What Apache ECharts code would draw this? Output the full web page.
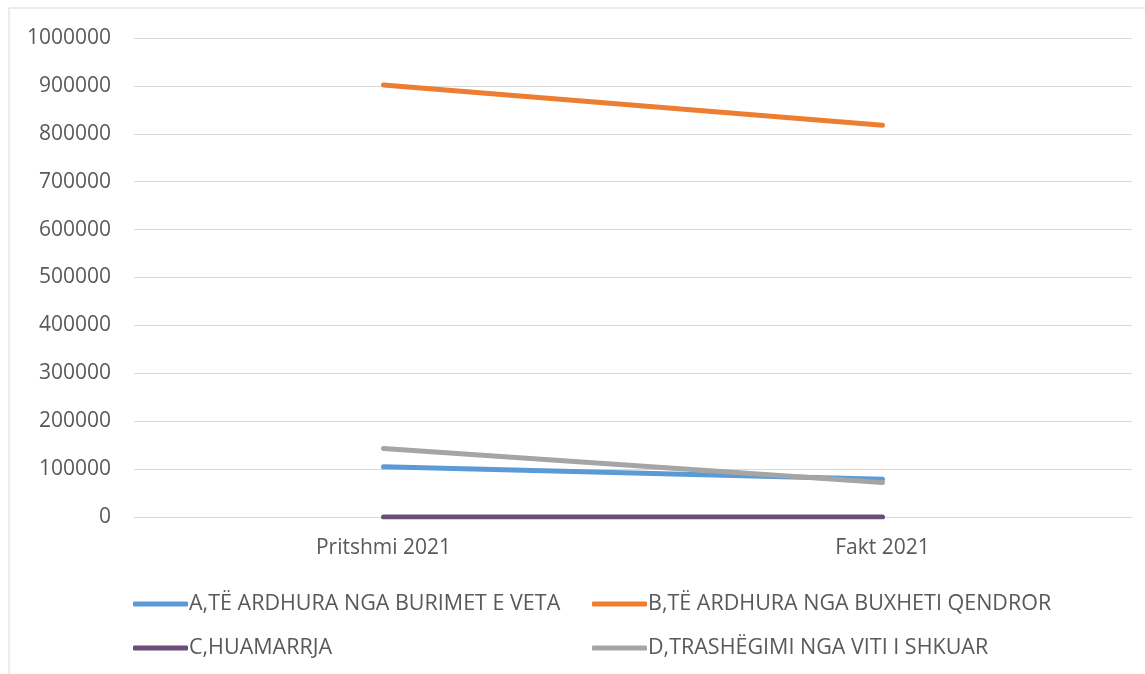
<!DOCTYPE html>
<html>
<head>
<meta charset="utf-8">
<script src="https://cdn.jsdelivr.net/npm/echarts@6/dist/echarts.min.js"></script>
<style>
  html, body { margin: 0; padding: 0; background: #fff; }
  #chart { width: 1145px; height: 674px; }
</style>
</head>
<body>
<div id="chart"></div>
<script>
// categories and values
const categories = ['Pritshmi 2021', 'Fakt 2021'];
const seriesNames = [
    'A,TË ARDHURA NGA BURIMET E VETA',
    'B,TË ARDHURA NGA BUXHETI QENDROR',
    'C,HUAMARRJA',
    'D,TRASHËGIMI NGA VITI I SHKUAR'
];
const valuesA = [105000, 79000];
const valuesB = [902000, 818000];
const valuesC = [0, 0];
const valuesD = [143000, 72000];
const yTicks = [0, 100000, 200000, 300000, 400000, 500000, 600000, 700000, 800000, 900000, 1000000];

const colors = ['#5B9BD5', '#ED7D31', '#6B4C7A', '#A5A5A5'];
const allValues = [valuesA, valuesB, valuesC, valuesD];

const textColor = '#595959';
const fontFamily = '"Open Sans", sans-serif';

const chart = echarts.init(document.getElementById('chart'));

const legendBase = {
    orient: 'vertical',
    icon: 'roundRect',
    itemWidth: 55,
    itemHeight: 5,
    itemGap: 22,
    top: 588,
    textStyle: { color: textColor, fontSize: 21.5, lineHeight: 20, fontFamily: fontFamily, padding: [0, 0, 0, -4] },
};

const option = {
    animation: false,
    color: colors,
    graphic: [
        {
            type: 'rect',
            shape: { x: 9, y: 8, width: 1150, height: 700 },
            style: { fill: 'none', stroke: '#D9D9D9', lineWidth: 1 },
            silent: true,
        },
    ],
    legend: [
        Object.assign({}, legendBase, { left: 128, data: [seriesNames[0], seriesNames[2]] }),
        Object.assign({}, legendBase, { left: 587, data: [seriesNames[1], seriesNames[3]] }),
    ],
    grid: { left: 134, right: 13, top: 38, bottom: 157, containLabel: false },
    xAxis: {
        type: 'category',
        data: categories,
        boundaryGap: true,
        axisLine: { show: true, lineStyle: { color: '#D9D9D9', width: 1 } },
        axisTick: { show: false },
        axisLabel: { color: textColor, fontSize: 21, fontFamily: fontFamily, margin: 21 },
    },
    yAxis: {
        type: 'value',
        min: yTicks[0],
        max: yTicks[yTicks.length - 1],
        interval: 100000,
        axisLine: { show: false },
        axisTick: { show: false },
        splitLine: { lineStyle: { color: '#D9D9D9', width: 1 } },
        axisLabel: {
            color: textColor, fontSize: 21, fontFamily: fontFamily, margin: 23,
            formatter: v => String(v),
        },
    },
    series: seriesNames.map((name, i) => ({
        name: name,
        type: 'line',
        data: allValues[i],
        symbol: 'none',
        lineStyle: { width: 5, cap: 'round', color: colors[i] },
        itemStyle: { color: colors[i] },
        z: i === 2 ? 1 : 2 + i,
    })),
};

chart.setOption(option);
</script>
</body>
</html>
